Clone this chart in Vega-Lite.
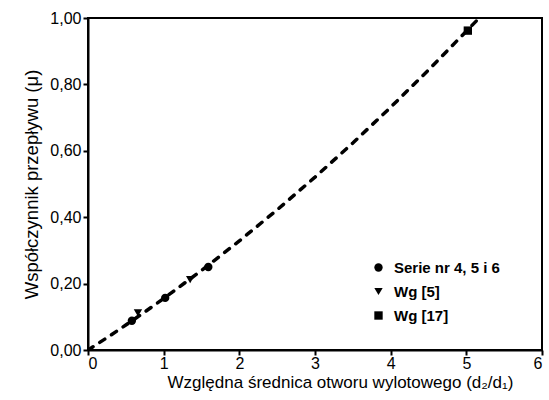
{
  "$schema": "https://vega.github.io/schema/vega-lite/v6.json",
  "width": 454,
  "height": 332,
  "autosize": {"type": "none"},
  "padding": {"left": 88, "top": 18, "right": 7, "bottom": 50},
  "background": "white",
  "config": {
    "font": "Liberation Sans",
    "view": {"stroke": "black", "strokeWidth": 2},
    "axis": {"grid": false, "domainColor": "black", "domainWidth": 2, "tickColor": "black", "tickWidth": 2, "tickSize": 5, "labelFontSize": 16, "labelColor": "black", "titleFontSize": 17, "titleFontWeight": "normal", "titleColor": "black"}
  },
  "datasets": {
    "curve": [
      {"x": 0, "y": 0},
      {"x": 0.25, "y": 0.037},
      {"x": 0.5, "y": 0.0752},
      {"x": 0.75, "y": 0.1146},
      {"x": 1.0, "y": 0.155},
      {"x": 1.5, "y": 0.2395},
      {"x": 2.0, "y": 0.3286},
      {"x": 2.5, "y": 0.4223},
      {"x": 3.0, "y": 0.5207},
      {"x": 3.5, "y": 0.6236},
      {"x": 4.0, "y": 0.7312},
      {"x": 4.5, "y": 0.8434},
      {"x": 5.0, "y": 0.9603},
      {"x": 5.17, "y": 1.0}
    ],
    "points": [
      {"x": 0.58, "y": 0.088, "series": "Serie nr 4, 5 i 6"},
      {"x": 1.02, "y": 0.157, "series": "Serie nr 4, 5 i 6"},
      {"x": 1.59, "y": 0.25, "series": "Serie nr 4, 5 i 6"},
      {"x": 0.66, "y": 0.112, "series": "Wg [5]"},
      {"x": 1.35, "y": 0.212, "series": "Wg [5]"},
      {"x": 5.02, "y": 0.962, "series": "Wg [17]"}
    ]
  },
  "layer": [
    {
      "data": {"name": "curve"},
      "mark": {"type": "line", "color": "black", "strokeWidth": 3.5, "strokeCap": "round", "strokeDash": [6, 8], "clip": true},
      "encoding": {
        "x": {"field": "x", "type": "quantitative", "scale": {"domain": [0, 6], "nice": false}, "axis": {"values": [0, 1, 2, 3, 4, 5, 6], "format": "d", "title": "Względna średnica otworu wylotowego (d₂/d₁)", "titlePadding": 3, "labelPadding": 0, "titleX": 252}},
        "y": {"field": "y", "type": "quantitative", "scale": {"domain": [0, 1], "nice": false}, "axis": {"values": [0, 0.2, 0.4, 0.6, 0.8, 1.0], "labelExpr": "replace(format(datum.value, '.2f'), '.', ',')", "title": "Współczynnik przepływu (μ)", "titlePadding": 8, "titleFontSize": 18.5}}
      }
    },
    {
      "data": {"name": "points"},
      "mark": {"type": "point", "filled": true, "opacity": 1, "size": 70},
      "encoding": {
        "x": {"field": "x", "type": "quantitative"},
        "y": {"field": "y", "type": "quantitative"},
        "shape": {"field": "series", "type": "nominal", "scale": {"domain": ["Serie nr 4, 5 i 6", "Wg [5]", "Wg [17]"], "range": ["circle", "triangle-down", "square"]}, "legend": {"title": null, "orient": "none", "legendX": 283, "legendY": 242, "labelFontSize": 15, "labelFontWeight": "bold", "labelColor": "black", "symbolFillColor": "black", "symbolStrokeColor": "black", "symbolSize": 70, "rowPadding": 8, "labelOffset": 8}},
        "color": {"value": "black"}
      }
    }
  ]
}
